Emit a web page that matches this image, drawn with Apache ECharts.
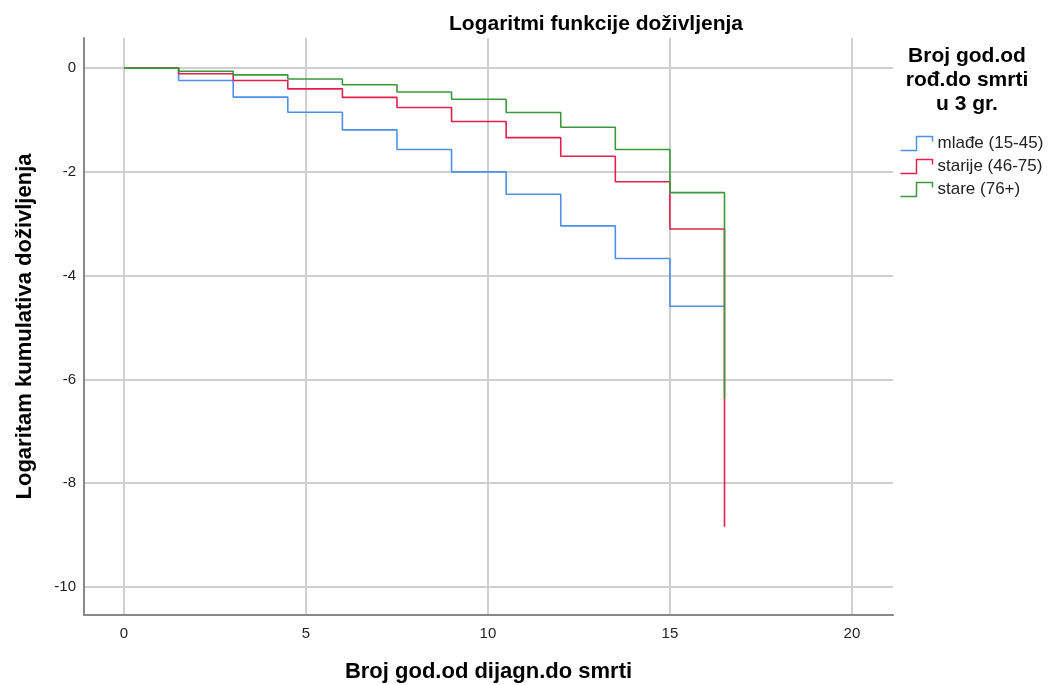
<!DOCTYPE html>
<html>
<head>
<meta charset="utf-8">
<script src="https://cdn.jsdelivr.net/npm/echarts@6/dist/echarts.min.js"></script>
<style>html,body{margin:0;padding:0;background:#fff;}#c{width:1051px;height:685px;}</style>
</head>
<body>
<div id="c"></div>
<script>
// Step change times (years since diagnosis)
const times = [0, 1.5, 3, 4.5, 6, 7.5, 9, 10.5, 12, 13.5, 15, 16.5];
// Log cumulative survival per group at each time
const mladeValues  = [0, -0.24, -0.56, -0.85, -1.19, -1.57, -2.00, -2.43, -3.04, -3.67, -4.59, -4.59];
const starijeValues = [0, -0.11, -0.24, -0.40, -0.565, -0.76, -1.03, -1.34, -1.70, -2.19, -3.10, -3.10, -8.84];
const stareValues  = [0, -0.06, -0.13, -0.21, -0.32, -0.46, -0.60, -0.855, -1.14, -1.57, -2.40, -2.40, -6.37];
const seriesNames = ['mlađe (15-45)', 'starije (46-75)', 'stare (76+)'];
const colors = ['#4f8fe8', '#e3204b', '#3c983c'];

function pairs(vals) {
  return vals.map((v, i) => [times[Math.min(i, times.length - 1)], v]);
}
const allValues = [mladeValues, starijeValues, stareValues];

const chart = echarts.init(document.getElementById('c'));
const font = 'Arial, "Liberation Sans", sans-serif';
chart.setOption({
  animation: false,
  backgroundColor: '#fff',
  title: {
    text: 'Logaritmi funkcije doživljenja',
    left: 591, top: 9, textAlign: 'center',
    textStyle: { fontFamily: font, fontSize: 21, fontWeight: 'bold', color: '#000' }
  },
  grid: { left: 84, right: 158, top: 38, bottom: 70, outerBoundsMode: 'none', containLabel: false },
  xAxis: {
    type: 'value', min: -1.1, max: 21.13, splitNumber: 5,
    name: 'Broj god.od dijagn.do smrti', nameLocation: 'middle', nameGap: 46,
    nameTextStyle: { fontFamily: font, fontSize: 22, fontWeight: 'bold', color: '#000' },
    axisLine: { show: true, onZero: false, lineStyle: { color: '#888', width: 2 } },
    axisTick: { show: false },
    axisLabel: { showMinLabel: false, showMaxLabel: false, margin: 11, fontFamily: font, fontSize: 15, color: '#222' },
    splitLine: { show: true, showMinLine: false, showMaxLine: false, lineStyle: { color: '#cfcfcf', width: 2 } }
  },
  yAxis: {
    type: 'value', min: -10.54, max: 0.58, splitNumber: 5,
    name: 'Logaritam kumulativa doživljenja', nameLocation: 'middle', nameGap: 48,
    nameTextStyle: { fontFamily: font, fontSize: 22, fontWeight: 'bold', color: '#000' },
    axisLine: { show: true, onZero: false, lineStyle: { color: '#888', width: 2 } },
    axisTick: { show: false },
    axisLabel: { showMinLabel: false, showMaxLabel: false, margin: 8, fontFamily: font, fontSize: 15, color: '#222' },
    splitLine: { show: true, showMinLine: false, showMaxLine: false, lineStyle: { color: '#cfcfcf', width: 2 } }
  },
  graphic: [{
    type: 'text', x: 967, y: 44,
    style: {
      text: 'Broj god.od\nrođ.do smrti\nu 3 gr.', align: 'center', verticalAlign: 'top',
      fontFamily: font, fontSize: 21, fontWeight: 'bold', fill: '#000', lineHeight: 24
    }
  }],
  legend: {
    orient: 'vertical', left: 898, top: 134, itemGap: 4, padding: 0,
    itemWidth: 32, itemHeight: 14,
    textStyle: { fontFamily: font, fontSize: 17, color: '#222' },
    data: seriesNames.map((n, i) => ({
      name: n,
      icon: 'path://M0,14 L16,14 L16,0 L32,0 L32,5',
      itemStyle: { color: 'none', borderColor: colors[i], borderWidth: 1.5 }
    }))
  },
  series: seriesNames.map((n, i) => ({
    name: n, type: 'line', step: 'end', symbol: 'none',
    data: pairs(allValues[i]),
    lineStyle: { color: colors[i], width: 1.6 },
    itemStyle: { color: colors[i] }
  }))
});
</script>
</body>
</html>
